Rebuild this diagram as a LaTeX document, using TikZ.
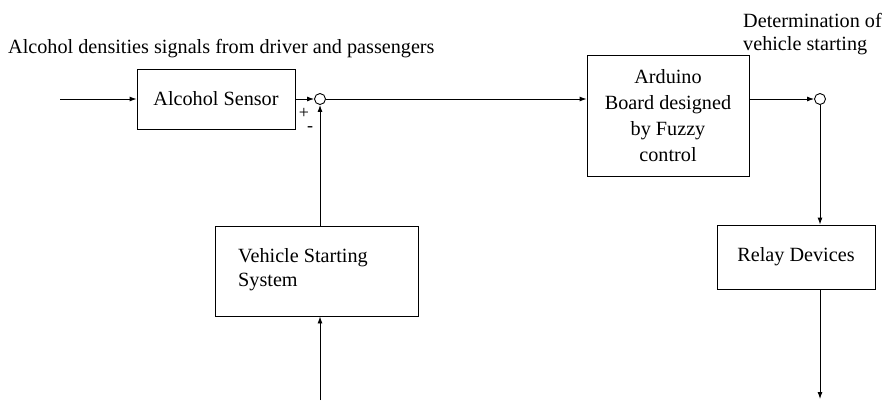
\documentclass[tikz,border=0pt]{standalone}
\usepackage{fontspec}
\setmainfont{Liberation Serif}
\usetikzlibrary{arrows.meta}
\begin{document}
\begin{tikzpicture}[x=1pt,y=-1pt,
  every node/.style={font=\fontsize{20.2}{26}\selectfont},
  blockbox/.style={draw,line width=0.9pt,inner sep=0pt},
  sumnode/.style={draw,circle,line width=0.9pt,minimum size=11pt,inner sep=0pt},
  flow/.style={line width=0.9pt,-{Latex[length=7pt,width=5pt]}},
  signlabel/.style={inner sep=0pt,font=\fontsize{18}{18}\selectfont}]
\useasboundingbox (0,0) rectangle (882,400);
% blocks
\node[blockbox,minimum width=158pt,minimum height=60pt] (sensor) at (216,99) {Alcohol Sensor};
\node[sumnode] (sum1) at (320,99) {};
\node[blockbox,minimum width=162pt,minimum height=121pt,align=center] (arduino) at (668,115.5)
  {Arduino\\Board designed\\by Fuzzy\\control};
\node[sumnode] (sum2) at (820,99) {};
\node[blockbox,minimum width=158pt,minimum height=64pt] (relay) at (796,257) {Relay Devices};
\node[blockbox,minimum width=203pt,minimum height=90pt] (vss) at (316.5,271) {};
\node[anchor=west,align=left,inner sep=0pt,font=\fontsize{20.2}{24}\selectfont] (vsstext) at (238,270) {Vehicle Starting\\System};
% labels
\node[anchor=base west,inner sep=0pt] (toplabel) at (8,53) {Alcohol densities signals from driver and passengers};
\node[anchor=north west,align=left,inner sep=0pt,font=\fontsize{20.2}{23}\selectfont] (detlabel) at (743,13) {Determination of\\vehicle starting};
\node[signlabel] (plus) at (304,113) {+};
\node[signlabel] (minus) at (310,129.5) {-};
% coordinates
\coordinate (inp) at (60,99);
\coordinate (vssin) at (320,400);
\coordinate (outp) at (820,399);
% connectors
\draw[flow] (inp) -- (sensor.west);
\draw[flow] (sensor.east) -- (sum1.west);
\draw[flow] (sum1.east) -- (sum1.east -| arduino.west);
\draw[flow] (vss.north -| sum1) -- (sum1.south);
\draw[flow] (vssin) -- (vss.south -| vssin);
\draw[flow] (arduino.east |- sum2) -- (sum2.west);
\draw[flow] (sum2.south) -- (relay.north -| sum2);
\draw[flow] (relay.south -| sum2) -- (outp);
\end{tikzpicture}
\end{document}
